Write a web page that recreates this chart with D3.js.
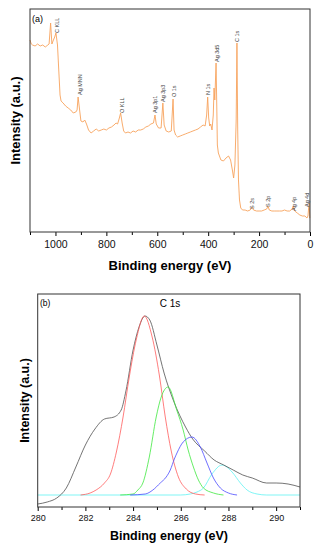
<!DOCTYPE html>
<html>
<head>
<meta charset="utf-8">
<script src="https://cdn.jsdelivr.net/npm/d3@7"></script>
<style>
  body { margin: 0; background: #fff; }
  text { font-family: Arial, "Liberation Sans", sans-serif; }
</style>
</head>
<body>
<script>
// ---- panel (a): survey spectrum, [binding energy eV, intensity a.u.]
const survey = [
  [1100, 192], [1095, 188], [1090, 187], [1080, 186], [1070, 188], [1060, 186],
  [1050, 187], [1040, 185], [1030, 187], [1025, 188], [1019, 209], [1014, 188],
  [1008, 192], [1003, 195], [998, 199], [992, 187], [987, 162], [982, 137],
  [978, 131], [970, 129], [960, 126], [950, 124], [940, 122], [930, 119],
  [920, 120], [915, 122], [911, 135], [906, 124], [900, 111], [892, 110],
  [885, 112], [878, 108], [870, 102], [860, 99], [850, 101], [840, 103],
  [830, 101], [820, 102], [810, 103], [800, 102], [790, 104], [780, 105],
  [770, 107], [762, 109], [756, 108], [750, 113], [744, 119], [738, 109],
  [732, 101], [725, 99], [715, 100], [705, 99], [695, 101], [685, 100],
  [675, 102], [665, 102], [655, 103], [645, 105], [635, 106], [625, 108],
  [615, 109], [609, 117], [604, 108], [595, 104], [585, 104], [578, 129],
  [573, 107], [565, 101], [555, 100], [545, 101], [538, 133], [534, 102],
  [528, 97], [520, 95], [510, 96], [500, 97], [490, 98], [480, 99],
  [470, 100], [460, 101], [450, 102], [440, 103], [430, 105], [420, 107],
  [412, 106], [406, 117], [402, 135], [398, 114], [394, 106], [390, 108],
  [385, 102], [380, 117], [377, 144], [374, 132], [369, 169], [366, 122],
  [364, 87], [360, 79], [350, 72], [340, 71], [330, 74], [320, 76],
  [312, 72], [305, 62], [300, 54], [295, 67], [290, 112], [287, 189],
  [284, 102], [281, 52], [277, 32], [272, 24], [265, 22], [255, 22],
  [245, 21], [235, 22], [228, 25], [222, 22], [210, 21], [200, 21],
  [190, 21], [180, 22], [170, 23], [165, 26], [160, 22], [150, 21],
  [140, 21], [130, 21], [120, 21], [110, 21], [100, 22], [90, 21],
  [80, 21], [70, 23], [66, 26], [60, 21], [50, 19], [40, 17],
  [30, 16], [20, 16], [12, 14], [8, 16], [5, 25], [3, 29], [1, 14], [0, 14]
];

// peak labels: name, energy and intensity where the label starts
const peakNames = ["C KLL", "Ag MNN", "O KLL", "Ag 3p1", "Ag 3p3", "O 1s", "N 1s",
  "Ag 3d5", "C 1s", "S 2s", "S 2p", "Ag 4p", "Ag 4d"];
const peakEV = [995, 904, 740, 609, 578, 534, 401, 365, 287, 228, 165, 63, 13];
const peakLabelY = [199, 137, 119, 119, 130, 135, 137, 170, 190, 23, 25, 21, 25];

const surveyTicks = [1000, 800, 600, 400, 200, 0];
const surveyMinor = [1100, 900, 700, 500, 300, 100];

// ---- panel (b): C 1s high resolution, [binding energy eV, intensity a.u.]
const c1sEnvelope = [
  [280.0, 3], [280.4, 5], [280.8, 9], [281.2, 19], [281.6, 40], [282.0, 62],
  [282.4, 78], [282.8, 88], [283.2, 90], [283.5, 97], [283.7, 116], [284.0, 157],
  [284.25, 180], [284.5, 191], [284.7, 187], [285.0, 162], [285.3, 134], [285.7, 106],
  [286.2, 80], [286.5, 68], [287.0, 56], [287.4, 47], [287.8, 42], [288.2, 37],
  [288.6, 32], [289.0, 29], [289.6, 24], [290.0, 24], [290.5, 23], [291.0, 20]
];
const c1sRed = [
  [281.8, 12], [282.2, 14], [282.45, 17], [282.8, 24], [283.05, 33],
  [283.3, 55], [283.58, 90], [283.84, 130], [284.13, 167], [284.47, 191], [284.8, 170],
  [285.1, 132], [285.35, 90], [285.6, 56], [285.9, 30], [286.23, 18], [286.62, 13],
  [287.0, 12]
];
const c1sGreen = [
  [283.46, 12], [284.0, 13], [284.2, 17], [284.41, 24], [284.68, 50],
  [284.97, 90], [285.18, 110], [285.47, 120], [285.83, 97], [286.1, 77], [286.31, 57],
  [286.53, 40], [286.74, 27], [286.95, 19], [287.37, 14], [287.79, 12]
];
const c1sBlue = [
  [283.88, 12], [284.51, 13], [284.83, 17], [285.14, 24], [285.39, 30],
  [285.56, 37], [285.73, 48], [285.84, 54], [286.1, 65], [286.47, 70], [286.82, 60],
  [287.1, 44], [287.37, 29], [287.66, 19], [288.0, 14], [288.36, 12]
];
const c1sCyan = [
  [280.0, 12], [285.98, 12], [286.4, 13], [286.68, 15], [286.95, 19], [287.31, 33],
  [287.73, 42], [288.15, 35], [288.5, 24], [288.78, 17], [289.2, 13], [289.6, 12],
  [291.0, 12]
];
const c1sTicks = [280, 282, 284, 286, 288, 290];
const c1sMinor = [281, 283, 285, 287, 289, 291];

const width = 321, height = 550;

const svg = d3.select("body").append("svg")
  .attr("width", width)
  .attr("height", height);

// ---------- panel (a)
const xA = d3.scaleLinear().domain([1100, 0]).range([30, 310]);
const yA = d3.scaleLinear().domain([0, 223]).range([232, 9]);

const gA = svg.append("g");

gA.append("path")
  .datum(survey)
  .attr("fill", "none")
  .attr("stroke", "#f7a35c")
  .attr("stroke-width", 0.9)
  .attr("d", d3.line().x(d => xA(d[0])).y(d => yA(d[1])));

gA.selectAll("text.peak")
  .data(peakNames)
  .join("text")
  .attr("class", "peak")
  .attr("transform", (d, i) => `translate(${xA(peakEV[i]) + 2},${yA(peakLabelY[i])}) rotate(-90)`)
  .attr("font-size", "5.5px")
  .attr("fill", "#444")
  .text(d => d);

gA.append("g")
  .attr("transform", "translate(0,232)")
  .call(d3.axisBottom(xA).tickValues(surveyMinor).tickFormat("").tickSize(3))
  .call(g => g.select(".domain").remove());

gA.append("g")
  .attr("transform", "translate(0,232)")
  .call(d3.axisBottom(xA).tickValues(surveyTicks).tickFormat(d3.format("d")).tickSize(4).tickPadding(5))
  .call(g => g.select(".domain").remove())
  .call(g => g.selectAll("text").attr("font-size", "10.5px").attr("fill", "#111"));

gA.append("rect")
  .attr("x", 30).attr("y", 9)
  .attr("width", 280).attr("height", 223)
  .attr("fill", "none")
  .attr("stroke", "#333")
  .attr("stroke-width", 1);

gA.append("text")
  .attr("x", 32).attr("y", 22)
  .attr("font-size", "9px")
  .text("(a)");

gA.append("text")
  .attr("x", 170).attr("y", 270)
  .attr("text-anchor", "middle")
  .attr("font-size", "13px")
  .attr("font-weight", "bold")
  .text("Binding energy (eV)");

gA.append("text")
  .attr("transform", "translate(20,120.5) rotate(-90)")
  .attr("text-anchor", "middle")
  .attr("font-size", "13px")
  .attr("font-weight", "bold")
  .text("Intensity (a.u.)");

// ---------- panel (b)
const xB = d3.scaleLinear().domain([280, 291]).range([37.7, 300]);
const yB = d3.scaleLinear().domain([0, 213]).range([507, 294]);

const gB = svg.append("g");
const lineB = d3.line().curve(d3.curveMonotoneX).x(d => xB(d[0])).y(d => yB(d[1]));

const series = [
  { data: c1sCyan, color: "#5ff2f2" },
  { data: c1sEnvelope, color: "#505050" },
  { data: c1sRed, color: "#ff5c5c" },
  { data: c1sGreen, color: "#3fe83f" },
  { data: c1sBlue, color: "#4a4aff" }
];

gB.selectAll("path.fit")
  .data(series)
  .join("path")
  .attr("class", "fit")
  .attr("fill", "none")
  .attr("stroke", d => d.color)
  .attr("stroke-width", 0.8)
  .attr("d", d => lineB(d.data));

gB.append("g")
  .attr("transform", "translate(0,507)")
  .call(d3.axisBottom(xB).tickValues(c1sMinor).tickFormat("").tickSize(3))
  .call(g => g.select(".domain").remove());

gB.append("g")
  .attr("transform", "translate(0,507)")
  .call(d3.axisBottom(xB).tickValues(c1sTicks).tickSize(4).tickPadding(4))
  .call(g => g.select(".domain").remove())
  .call(g => g.selectAll("text").attr("font-size", "9px").attr("fill", "#111"));

gB.append("rect")
  .attr("x", 37.7).attr("y", 294)
  .attr("width", 262.3).attr("height", 213)
  .attr("fill", "none")
  .attr("stroke", "#333")
  .attr("stroke-width", 1);

gB.append("text")
  .attr("x", 40).attr("y", 306)
  .attr("font-size", "8.5px")
  .text("(b)");

gB.append("text")
  .attr("x", 170).attr("y", 307)
  .attr("text-anchor", "middle")
  .attr("font-size", "10px")
  .text("C 1s");

gB.append("text")
  .attr("x", 169).attr("y", 540)
  .attr("text-anchor", "middle")
  .attr("font-size", "12.5px")
  .attr("font-weight", "bold")
  .text("Binding energy (eV)");

gB.append("text")
  .attr("transform", "translate(29,400.5) rotate(-90)")
  .attr("text-anchor", "middle")
  .attr("font-size", "12.5px")
  .attr("font-weight", "bold")
  .text("Intensity (a.u.)");
</script>
</body>
</html>
